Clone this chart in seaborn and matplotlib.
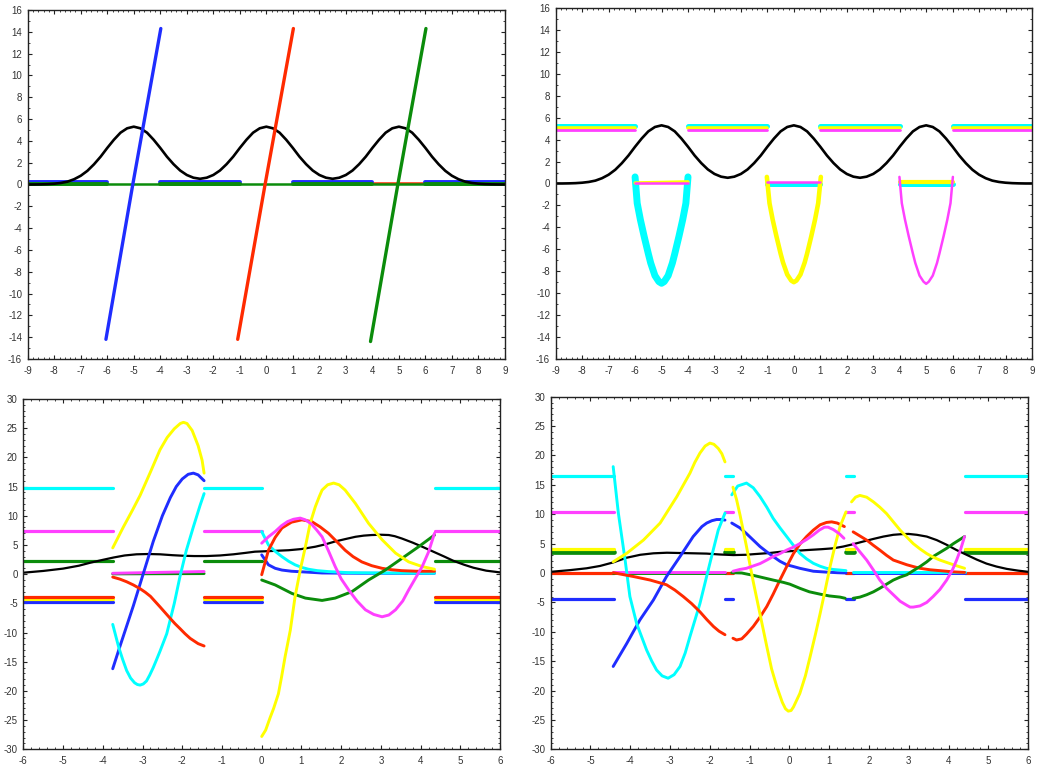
import numpy as np
import matplotlib
matplotlib.use("Agg")
import matplotlib.pyplot as plt
import seaborn as sns
from matplotlib.ticker import MultipleLocator

# ---------------- colours ----------------
BLUE = "#1f2dff"
RED = "#ff2a00"
GREEN = "#0b8c0b"
YELLOW = "#ffff00"
CYAN = "#00ffff"
MAGENTA = "#ff40ff"
BLACK = "#000000"

# ---------------- top panels (shared black curve) ----------------
top_black_x = list(np.arange(-9, 9.001, 0.25))
top_black_y = [0.00, 0.00, 0.01, 0.03, 0.07, 0.14, 0.26, 0.48, 0.80, 1.25, 1.85, 2.55,
               3.35, 4.10, 4.75, 5.15, 5.30, 5.15, 4.75, 4.10, 3.35, 2.55, 1.86, 1.28,
               0.87, 0.62, 0.52, 0.62, 0.87, 1.28, 1.86, 2.55, 3.35, 4.10, 4.75, 5.15,
               5.30,
               5.15, 4.75, 4.10, 3.35, 2.55, 1.86, 1.28, 0.87, 0.62, 0.52, 0.62, 0.87,
               1.28, 1.86, 2.55, 3.35, 4.10, 4.75, 5.15, 5.30, 5.15, 4.75, 4.10, 3.35,
               2.55, 1.85, 1.25, 0.80, 0.48, 0.26, 0.14, 0.07, 0.03, 0.01, 0.00, 0.00]

top_outer_intervals = [(-9, -6), (-4, -1), (1, 4), (6, 9)]

# top-left
tl_blue_x = [-6.05, -5.03, -3.98]
tl_blue_y = [-14.2, 0.1, 14.3]
tl_red_x = [-1.08, -0.04, 1.02]
tl_red_y = [-14.2, 0.1, 14.3]
tl_green_x = [3.93, 4.96, 6.02]
tl_green_y = [-14.4, 0.0, 14.3]
tl_blue_level = 0.25
tl_red_level = 0.12
tl_green_level = 0.02
tl_red_extra_interval = (4, 6)

# top-right
tr_cyan_level = 5.25
tr_yellow_level = 5.08
tr_magenta_level = 4.88
tr_cyan_x = [-6.0, -5.92, -5.8, -5.66, -5.5, -5.41, -5.25, -5.1, -5.0, -4.9, -4.75, -4.59,
             -4.5, -4.34, -4.2, -4.08, -4.0]
tr_cyan_y = [0.6, -1.8, -3.3, -4.8, -6.4, -7.25, -8.4, -8.95, -9.1, -8.95, -8.4, -7.25,
             -6.4, -4.8, -3.3, -1.8, 0.6]
tr_yellow_x = [-1.02, -0.92, -0.8, -0.66, -0.5, -0.41, -0.25, -0.1, 0.0, 0.1, 0.25, 0.41,
               0.5, 0.66, 0.8, 0.92, 1.02]
tr_yellow_y = [0.6, -1.8, -3.3, -4.8, -6.4, -7.2, -8.3, -8.85, -9.0, -8.85, -8.3, -7.2,
               -6.4, -4.8, -3.3, -1.8, 0.6]
tr_magenta_x = [3.99, 4.08, 4.2, 4.34, 4.5, 4.59, 4.75, 4.9, 5.0, 5.1, 5.25, 5.41, 5.5,
                5.66, 5.8, 5.92, 6.01]
tr_magenta_y = [0.6, -1.8, -3.3, -4.8, -6.4, -7.25, -8.4, -8.95, -9.15, -8.95, -8.4,
                -7.25, -6.4, -4.8, -3.3, -1.8, 0.6]
tr_flat_yellow_a = ([-6.0, -4.0], [0.05, 0.15])
tr_flat_magenta_a = ([-6.0, -4.0], [0.0, 0.0])
tr_flat_cyan_b = ([-1.0, 1.0], [-0.02, -0.02])
tr_flat_magenta_b = ([-1.0, 1.0], [0.1, 0.1])
tr_flat_cyan_c = ([4.0, 6.0], [-0.05, -0.05])
tr_flat_yellow_c = ([4.0, 6.0], [0.12, 0.12])

# ---------------- bottom-left ----------------
bl_intervals = [(-6, -3.75), (-1.45, 0), (4.35, 6)]
bl_cyan_level = 14.8
bl_magenta_level = 7.4
bl_green_level = 2.2
bl_red_level = -3.85
bl_yellow_level = -4.3
bl_blue_level = -4.7

bl_black_x = [-6, -5.5, -5.0, -4.6, -4.32, -4.0, -3.73, -3.45, -3.15, -2.85, -2.56, -2.25,
              -1.97, -1.7, -1.39, -1.05, -0.71, -0.4, -0.17, 0.2, 0.68, 1.0, 1.35, 1.6,
              1.85, 2.1, 2.36, 2.57, 2.77, 3.0, 3.2, 3.35, 3.53, 3.8, 4.04, 4.37, 4.6,
              4.82, 5.1, 5.33, 5.65, 6]
bl_black_y = [0.25, 0.55, 0.95, 1.45, 1.95, 2.45, 2.85, 3.2, 3.4, 3.45, 3.4, 3.25, 3.15,
              3.1, 3.1, 3.2, 3.4, 3.65, 3.85, 3.95, 4.1, 4.3, 4.7, 5.1, 5.6, 6.0, 6.4,
              6.6, 6.7, 6.75, 6.7, 6.5, 6.1, 5.4, 4.7, 3.7, 3.0, 2.3, 1.6, 1.1, 0.6, 0.3]

bl_yellow_a_x = [-3.75, -3.48, -3.25, -3.06, -2.8, -2.56, -2.38, -2.2, -2.05, -1.97, -1.88,
                 -1.75, -1.6, -1.5, -1.45]
bl_yellow_a_y = [4.5, 8.1, 11.0, 13.5, 17.5, 21.3, 23.4, 24.9, 25.8, 26.0, 25.8, 24.6,
                 22.0, 19.5, 17.3]
bl_blue_a_x = [-3.75, -3.57, -3.4, -3.23, -2.98, -2.73, -2.5, -2.3, -2.15, -2.0, -1.85,
               -1.72, -1.6, -1.45]
bl_blue_a_y = [-16.2, -12.4, -8.9, -5.4, 0.1, 5.6, 10.0, 13.1, 15.0, 16.3, 17.1, 17.3,
               17.0, 16.0]
bl_cyan_a_x = [-3.75, -3.6, -3.5, -3.4, -3.3, -3.2, -3.13, -3.06, -2.98, -2.9, -2.82,
               -2.73, -2.65, -2.56, -2.39, -2.2, -2.06, -1.9, -1.72, -1.55, -1.45]
bl_cyan_a_y = [-8.6, -12.5, -14.6, -16.5, -17.8, -18.6, -18.9, -19.0, -18.8, -18.3,
               -17.3, -16.0, -14.7, -13.2, -10.2, -5.0, -0.5, 4.0, 8.1, 11.8, 13.8]
bl_red_a_x = [-3.75, -3.57, -3.4, -3.23, -3.06, -2.93, -2.8, -2.68, -2.56, -2.43, -2.3,
              -2.18, -2.06, -1.93, -1.8, -1.6, -1.45]
bl_red_a_y = [-0.5, -0.85, -1.3, -1.85, -2.5, -3.1, -3.8, -4.7, -5.6, -6.6, -7.6, -8.5,
              -9.3, -10.2, -11.0, -11.9, -12.3]
bl_magenta_a_x = [-3.75, -1.45]
bl_magenta_a_y = [0.15, 0.45]
bl_green_a_x = [-3.75, -1.45]
bl_green_a_y = [0.05, 0.1]

bl_yellow_b_x = [0.0, 0.1, 0.21, 0.3, 0.42, 0.5, 0.59, 0.72, 0.84, 0.97, 1.10, 1.22,
                 1.35, 1.45, 1.52, 1.66, 1.81, 1.95, 2.10, 2.36, 2.69, 3.03, 3.37, 3.70,
                 4.04, 4.35]
bl_yellow_b_y = [-27.8, -26.7, -24.6, -23.0, -20.5, -17.6, -14.1, -9.6, -3.85, 0.7, 4.7,
                 8.7, 11.55, 13.3, 14.4, 15.3, 15.6, 15.3, 14.4, 12.1, 8.7, 5.9, 3.6, 2.1,
                 1.3, 0.84]
bl_magenta_b_x = [0.0, 0.17, 0.34, 0.5, 0.65, 0.8, 0.97, 1.1, 1.25, 1.38, 1.52, 1.68,
                  1.85, 2.0, 2.19, 2.4, 2.61, 2.82, 3.03, 3.2, 3.37, 3.55, 3.70, 3.87,
                  4.04, 4.2, 4.35]
bl_magenta_b_y = [5.3, 6.4, 7.3, 8.3, 9.0, 9.4, 9.6, 9.3, 8.6, 7.6, 6.4, 4.0, 1.3, -0.8,
                  -2.7, -4.6, -6.1, -6.9, -7.3, -7.0, -6.1, -4.6, -2.7, -0.7, 1.3, 3.8,
                  7.0]
bl_red_b_x = [0.0, 0.17, 0.34, 0.51, 0.75, 1.01, 1.26, 1.47, 1.68, 1.9, 2.10, 2.3, 2.52,
              2.77, 3.03, 3.28, 3.53, 3.9, 4.35]
bl_red_b_y = [-0.1, 4.1, 6.3, 7.9, 8.9, 9.3, 9.0, 8.1, 7.0, 5.5, 4.1, 3.0, 2.1, 1.45,
              1.0, 0.75, 0.6, 0.5, 0.5]
bl_green_b_x = [0.0, 0.34, 0.76, 1.10, 1.52, 1.85, 2.27, 2.69, 3.11, 3.53, 3.95, 4.35]
bl_green_b_y = [-1.0, -1.85, -3.3, -4.1, -4.5, -4.1, -3.0, -1.0, 0.7, 2.7, 4.7, 6.7]
bl_blue_b_x = [0.0, 0.17, 0.34, 0.51, 0.75, 1.01, 1.52, 2.5, 4.35]
bl_blue_b_y = [3.3, 1.6, 1.0, 0.7, 0.5, 0.4, 0.2, 0.15, 0.15]
bl_cyan_b_x = [0.0, 0.17, 0.34, 0.51, 0.68, 0.84, 1.01, 1.18, 1.4, 1.68, 2.2, 3.0, 4.35]
bl_cyan_b_y = [7.3, 5.0, 3.9, 3.0, 2.2, 1.6, 1.15, 0.84, 0.6, 0.44, 0.25, 0.2, 0.16]

# ---------------- bottom-right ----------------
br_intervals = [(-6, -4.42), (-1.63, -1.42), (1.42, 1.62), (4.4, 6)]
br_cyan_level = 16.5
br_magenta_level = 10.4
br_yellow_level = 4.1
br_green_level = 3.5
br_red_level = 0.0
br_blue_level = -4.5

br_black_x = [-6, -5.5, -5.1, -4.76, -4.43, -4.09, -3.75, -3.42, -3.08, -2.75, -2.4, -2.08,
              -1.75, -1.41, -1.1, -0.91, -0.5, -0.24, 0.1, 0.43, 0.8, 1.1, 1.35, 1.6, 1.85,
              2.11, 2.36, 2.61, 2.8, 2.99, 3.2, 3.45, 3.7, 3.95, 4.2, 4.45, 4.7, 4.95, 5.2,
              5.46, 5.75, 6]
br_black_y = [0.2, 0.5, 0.8, 1.2, 1.8, 2.6, 3.1, 3.35, 3.45, 3.4, 3.35, 3.3, 3.15, 3.05,
              3.1, 3.2, 3.4, 3.6, 3.75, 3.9, 4.05, 4.2, 4.5, 4.9, 5.35, 5.8, 6.2, 6.5, 6.6,
              6.65, 6.5, 6.2, 5.6, 4.8, 3.9, 3.1, 2.3, 1.6, 1.1, 0.7, 0.4, 0.2]

br_cyan_a_x = [-4.43, -4.30, -4.13, -4.01, -3.84, -3.59, -3.46, -3.34, -3.2, -3.05, -2.9,
               -2.75, -2.62, -2.50, -2.25, -2.0, -1.79, -1.62]
br_cyan_a_y = [18.1, 10.2, 2.2, -4.0, -8.6, -13.1, -15.0, -16.5, -17.5, -17.9, -17.3,
               -15.9, -13.6, -10.8, -5.2, 1.65, 7.3, 10.2]
br_yellow_a_x = [-4.43, -4.09, -3.67, -3.25, -2.83, -2.50, -2.38, -2.25, -2.12, -2.0,
                 -1.9, -1.79, -1.7, -1.62]
br_yellow_a_y = [1.9, 3.35, 5.6, 8.5, 13.0, 17.0, 18.8, 20.4, 21.6, 22.1, 21.9, 21.2,
                 20.3, 18.9]
br_blue_a_x = [-4.43, -4.09, -3.76, -3.42, -3.09, -2.75, -2.42, -2.2, -2.08, -1.95, -1.83,
               -1.7, -1.62]
br_blue_a_y = [-15.9, -12.0, -8.0, -4.6, -0.6, 2.8, 6.2, 7.9, 8.5, 8.9, 9.1, 9.1, 9.0]
br_red_a_x = [-4.43, -3.92, -3.50, -3.09, -2.88, -2.67, -2.46, -2.25, -2.08, -1.91, -1.77,
              -1.62]
br_red_a_y = [0.05, -0.6, -1.2, -2.0, -2.9, -4.0, -5.2, -6.6, -7.9, -9.1, -9.9, -10.5]
br_magenta_a_x = [-4.43, -1.62]
br_magenta_a_y = [0.15, 0.15]
br_green_a_x = [-4.43, -1.62]
br_green_a_y = [0.0, 0.0]

br_cyan_b_x = [-1.45, -1.3, -1.08, -0.91, -0.74, -0.57, -0.41, -0.24, -0.07, 0.1, 0.26,
               0.43, 0.6, 0.77, 0.93, 1.1, 1.27, 1.42]
br_cyan_b_y = [13.3, 14.8, 15.3, 14.5, 13.0, 11.2, 9.3, 7.7, 6.2, 4.7, 3.35, 2.4, 1.65,
               1.15, 0.8, 0.6, 0.5, 0.4]
br_yellow_b_x = [-1.42, -1.33, -1.24, -1.08, -0.91, -0.74, -0.57, -0.45, -0.32, -0.18,
                 -0.1, -0.03, 0.04, 0.1, 0.26, 0.4, 0.52, 0.65, 0.77, 0.9, 1.02, 1.15,
                 1.27, 1.42]
br_yellow_b_y = [14.6, 12.5, 9.8, 4.5, -1.5, -7.0, -12.5, -16.3, -19.3, -22.0, -23.1,
                 -23.5, -23.4, -22.8, -20.5, -17.5, -14.2, -10.5, -6.9, -2.8, 1.1, 4.8,
                 7.9, 10.4]
br_red_b_x = [-1.42, -1.33, -1.2, -1.08, -0.91, -0.74, -0.57, -0.41, -0.24, -0.07, 0.1,
              0.26, 0.43, 0.6, 0.77, 0.93, 1.06, 1.2, 1.38]
br_red_b_y = [-11.1, -11.4, -11.2, -10.4, -9.1, -7.5, -5.7, -3.6, -1.2, 1.1, 3.3, 4.9,
              6.2, 7.3, 8.2, 8.6, 8.7, 8.5, 7.9]
br_blue_b_x = [-1.45, -1.25, -1.08, -0.91, -0.74, -0.57, -0.41, -0.24, -0.07, 0.1, 0.26,
               0.43, 0.6, 0.93, 1.2, 1.42]
br_blue_b_y = [8.5, 7.7, 6.7, 5.6, 4.5, 3.6, 2.8, 2.0, 1.4, 1.1, 0.8, 0.55, 0.3, 0.15,
               0.05, 0.0]
br_magenta_b_x = [-1.42, -1.25, -1.08, -0.91, -0.74, -0.57, -0.41, -0.24, -0.07, 0.1,
                  0.26, 0.43, 0.6, 0.75, 0.88, 0.97, 1.1, 1.25, 1.37]
br_magenta_b_y = [0.3, 0.6, 0.8, 1.2, 1.6, 2.2, 2.8, 3.3, 3.9, 4.4, 5.0, 5.7, 6.5, 7.3,
                  7.8, 7.8, 7.4, 6.7, 5.9]
br_green_b_x = [-1.45, -1.2, -0.91, -0.66, -0.41, -0.15, 0.01, 0.26, 0.5, 0.77, 1.0,
                1.27, 1.4]
br_green_b_y = [0.05, 0.0, -0.4, -0.8, -1.2, -1.6, -1.9, -2.6, -3.2, -3.6, -3.9, -4.1,
                -4.3]

br_yellow_c_x = [1.56, 1.66, 1.77, 1.94, 2.11, 2.27, 2.44, 2.61, 2.78, 2.95, 3.11, 3.28,
                 3.45, 3.61, 3.78, 3.95, 4.12, 4.4]
br_yellow_c_y = [12.1, 12.9, 13.2, 12.9, 12.1, 11.2, 10.1, 8.7, 7.3, 6.1, 5.0, 4.1, 3.3,
                 2.7, 2.2, 1.8, 1.4, 0.8]
br_red_c_x = [1.6, 1.77, 1.94, 2.11, 2.27, 2.44, 2.61, 2.78, 2.95, 3.11, 3.28, 3.53, 3.78,
              4.1, 4.4]
br_red_c_y = [7.0, 6.3, 5.6, 4.7, 3.9, 3.0, 2.2, 1.8, 1.4, 1.1, 0.8, 0.55, 0.4, 0.2, 0.1]
br_magenta_c_x = [1.6, 1.77, 1.94, 2.11, 2.27, 2.44, 2.61, 2.78, 2.95, 3.03, 3.11, 3.28,
                  3.45, 3.61, 3.78, 3.95, 4.1, 4.2, 4.3, 4.4]
br_magenta_c_y = [5.0, 3.6, 2.2, 0.5, -1.2, -2.6, -3.7, -4.8, -5.5, -5.8, -5.8, -5.6,
                  -5.0, -4.0, -2.8, -1.2, 0.6, 2.2, 4.0, 6.2]
br_green_c_x = [1.6, 1.77, 1.94, 2.11, 2.27, 2.44, 2.61, 2.78, 2.95, 3.11, 3.28, 3.45,
                3.61, 3.78, 3.95, 4.12, 4.4]
br_green_c_y = [-4.3, -4.1, -3.7, -3.2, -2.6, -1.9, -1.2, -0.7, -0.3, 0.4, 1.1, 1.9, 2.8,
                3.5, 4.2, 5.0, 6.2]
br_cyan_c_x = [1.6, 4.4]
br_cyan_c_y = [0.15, 0.15]
br_blue_c_x = [1.6, 4.4]
br_blue_c_y = [0.0, 0.0]

# ---------------- drawing ----------------
sns.set_style("white")
plt.rcParams["font.family"] = ["Liberation Sans", "DejaVu Sans"]
plt.rcParams["axes.unicode_minus"] = False

fig = plt.figure(figsize=(10.42, 7.68), dpi=100)
fig.patch.set_facecolor("white")

ax_tl = fig.add_axes([0.0266, 0.5326, 0.4580, 0.4544])
ax_tr = fig.add_axes([0.5333, 0.5326, 0.4571, 0.4570])
ax_bl = fig.add_axes([0.0224, 0.0243, 0.4575, 0.4562])
ax_br = fig.add_axes([0.5285, 0.0243, 0.4583, 0.4592])


def draw(ax, x, y, color, lw):
    sns.lineplot(x=list(x), y=list(y), ax=ax, color=color, linewidth=lw, sort=False,
                 estimator=None, legend=False, solid_capstyle="round",
                 solid_joinstyle="round")


def draw_level(ax, intervals, level, color, lw):
    for a, b in intervals:
        draw(ax, [a, b], [level, level], color, lw)


# top-left
draw_level(ax_tl, top_outer_intervals + [tl_red_extra_interval], tl_red_level, RED, 1.8)
draw_level(ax_tl, top_outer_intervals, tl_blue_level, BLUE, 2.8)
draw_level(ax_tl, [(-9, 9)], tl_green_level, GREEN, 1.8)
draw_level(ax_tl, top_outer_intervals, tl_green_level, GREEN, 2.8)
draw(ax_tl, top_black_x, top_black_y, BLACK, 1.9)
draw(ax_tl, tl_blue_x, tl_blue_y, BLUE, 2.4)
draw(ax_tl, tl_red_x, tl_red_y, RED, 2.4)
draw(ax_tl, tl_green_x, tl_green_y, GREEN, 2.4)

# top-right
draw_level(ax_tr, top_outer_intervals, tr_cyan_level, CYAN, 3.6)
draw_level(ax_tr, top_outer_intervals, tr_yellow_level, YELLOW, 2.6)
draw_level(ax_tr, top_outer_intervals, tr_magenta_level, MAGENTA, 2.0)
draw(ax_tr, top_black_x, top_black_y, BLACK, 1.9)
draw(ax_tr, *tr_flat_cyan_b, CYAN, 3.6)
draw(ax_tr, *tr_flat_cyan_c, CYAN, 3.6)
draw(ax_tr, tr_cyan_x, tr_cyan_y, CYAN, 5.0)
draw(ax_tr, *tr_flat_yellow_a, YELLOW, 2.4)
draw(ax_tr, *tr_flat_yellow_c, YELLOW, 3.0)
draw(ax_tr, tr_yellow_x, tr_yellow_y, YELLOW, 3.3)
draw(ax_tr, *tr_flat_magenta_a, MAGENTA, 1.8)
draw(ax_tr, *tr_flat_magenta_b, MAGENTA, 1.8)
draw(ax_tr, tr_magenta_x, tr_magenta_y, MAGENTA, 1.8)

# bottom-left
draw_level(ax_bl, bl_intervals, bl_cyan_level, CYAN, 2.3)
draw_level(ax_bl, bl_intervals, bl_magenta_level, MAGENTA, 2.3)
draw_level(ax_bl, bl_intervals, bl_green_level, GREEN, 2.3)
draw_level(ax_bl, bl_intervals, bl_blue_level, BLUE, 2.3)
draw_level(ax_bl, bl_intervals, bl_yellow_level, YELLOW, 2.3)
draw_level(ax_bl, bl_intervals, bl_red_level, RED, 2.3)
draw(ax_bl, bl_black_x, bl_black_y, BLACK, 1.6)
for xs, ys, c in [(bl_green_a_x, bl_green_a_y, GREEN), (bl_magenta_a_x, bl_magenta_a_y, MAGENTA),
                  (bl_blue_a_x, bl_blue_a_y, BLUE), (bl_blue_b_x, bl_blue_b_y, BLUE),
                  (bl_cyan_a_x, bl_cyan_a_y, CYAN), (bl_cyan_b_x, bl_cyan_b_y, CYAN),
                  (bl_red_a_x, bl_red_a_y, RED), (bl_red_b_x, bl_red_b_y, RED),
                  (bl_green_b_x, bl_green_b_y, GREEN),
                  (bl_yellow_a_x, bl_yellow_a_y, YELLOW), (bl_yellow_b_x, bl_yellow_b_y, YELLOW),
                  (bl_magenta_b_x, bl_magenta_b_y, MAGENTA)]:
    draw(ax_bl, xs, ys, c, 2.1)

# bottom-right
draw_level(ax_br, br_intervals, br_cyan_level, CYAN, 2.3)
draw_level(ax_br, br_intervals, br_magenta_level, MAGENTA, 2.3)
draw_level(ax_br, br_intervals, br_green_level, GREEN, 3.4)
draw_level(ax_br, br_intervals, br_yellow_level, YELLOW, 2.3)
draw_level(ax_br, br_intervals, br_red_level, RED, 2.3)
draw_level(ax_br, br_intervals, br_blue_level, BLUE, 2.3)
draw(ax_br, br_black_x, br_black_y, BLACK, 1.6)
for xs, ys, c in [(br_green_a_x, br_green_a_y, GREEN), (br_magenta_a_x, br_magenta_a_y, MAGENTA),
                  (br_blue_a_x, br_blue_a_y, BLUE), (br_blue_b_x, br_blue_b_y, BLUE),
                  (br_blue_c_x, br_blue_c_y, BLUE),
                  (br_cyan_a_x, br_cyan_a_y, CYAN), (br_cyan_b_x, br_cyan_b_y, CYAN),
                  (br_cyan_c_x, br_cyan_c_y, CYAN),
                  (br_red_a_x, br_red_a_y, RED), (br_red_b_x, br_red_b_y, RED),
                  (br_red_c_x, br_red_c_y, RED),
                  (br_green_b_x, br_green_b_y, GREEN), (br_green_c_x, br_green_c_y, GREEN),
                  (br_yellow_a_x, br_yellow_a_y, YELLOW), (br_yellow_b_x, br_yellow_b_y, YELLOW),
                  (br_yellow_c_x, br_yellow_c_y, YELLOW),
                  (br_magenta_b_x, br_magenta_b_y, MAGENTA), (br_magenta_c_x, br_magenta_c_y, MAGENTA)]:
    draw(ax_br, xs, ys, c, 2.1)

# axes styling
for ax, xl, yl, xmaj, ymaj in [(ax_tl, (-9, 9), (-16, 16), 1, 2),
                               (ax_tr, (-9, 9), (-16, 16), 1, 2),
                               (ax_bl, (-6, 6), (-30, 30), 1, 5),
                               (ax_br, (-6, 6), (-30, 30), 1, 5)]:
    ax.set_xlim(*xl)
    ax.set_ylim(*yl)
    ax.xaxis.set_major_locator(MultipleLocator(xmaj))
    ax.yaxis.set_major_locator(MultipleLocator(ymaj))
    ax.xaxis.set_minor_locator(MultipleLocator(0.2))
    ax.yaxis.set_minor_locator(MultipleLocator(1))
    ax.set_xlabel("")
    ax.set_ylabel("")
    ax.grid(False)
    for sp in ax.spines.values():
        sp.set_visible(True)
        sp.set_color("#222222")
        sp.set_linewidth(1.0)
    ax.tick_params(axis="both", which="both", direction="in", top=True, right=True,
                   bottom=True, left=True, colors="#222222", labelcolor="#333333",
                   labelsize=7)
    ax.tick_params(axis="both", which="major", length=3, width=0.8)
    ax.tick_params(axis="both", which="minor", length=1.5, width=0.6)
    ax.tick_params(axis="x", which="major", pad=5)
    ax.tick_params(axis="y", which="major", pad=4)

fig.savefig("out.png", dpi=100, facecolor="white")
